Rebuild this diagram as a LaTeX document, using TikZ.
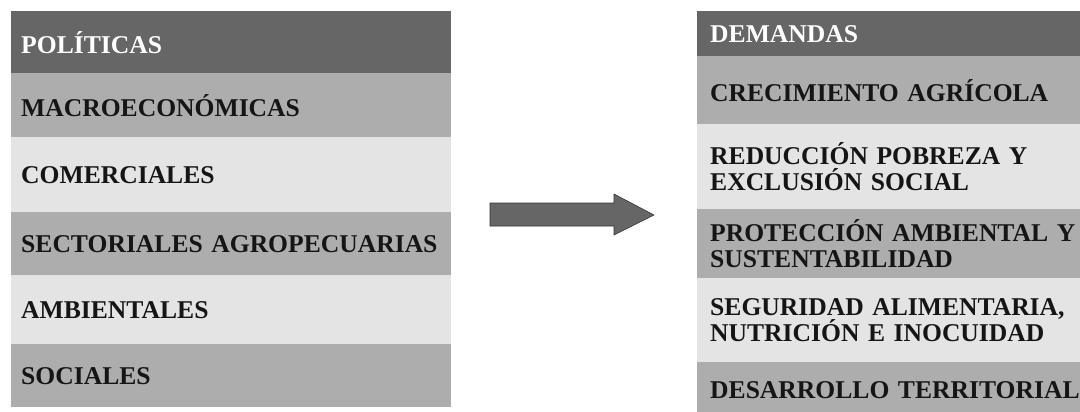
\documentclass[tikz,border=0pt]{standalone}
\usepackage{fontspec}
\setmainfont{Liberation Serif}
\definecolor{dk}{HTML}{666666}
\definecolor{md}{HTML}{ADADAD}
\definecolor{lt}{HTML}{E4E4E4}
\definecolor{ink}{HTML}{151515}
\begin{document}
\begin{tikzpicture}[x=1pt,y=-1pt,
  cell/.style={rectangle, anchor=north west, inner ysep=0pt, align=left,
    font=\fontsize{25.6}{26}\selectfont\bfseries, text=ink},
  lcell/.style={cell, minimum width=435pt, text width=420pt, inner xsep=10pt},
  rcell/.style={cell, minimum width=400pt, text width=380pt, inner xsep=13pt},
  hd/.style={fill=dk, text=white},
  mid/.style={fill=md},
  lit/.style={fill=lt},
  bigarrow/.style={fill=dk, draw=black!80, line width=0.6pt}]
\useasboundingbox[fill=white] (0,0) rectangle (1080,412);
% left column
\node[lcell, hd, minimum height=62pt] (p0) at (11,11) {POLÍTICAS};
\node[lcell, mid, minimum height=64pt] (p1) at (11,73) {MACROECONÓMICAS};
\node[lcell, lit, minimum height=75pt] (p2) at (11,137) {COMERCIALES};
\node[lcell, mid, minimum height=63pt] (p3) at (11,212) {SECTORIALES AGROPECUARIAS};
\node[lcell, lit, minimum height=69pt] (p4) at (11,275) {AMBIENTALES};
\node[lcell, mid, minimum height=63pt] (p5) at (11,344) {SOCIALES};
% right column
\node[rcell, hd, minimum height=45pt] (d0) at (697,11) {DEMANDAS};
\node[rcell, mid, minimum height=68pt] (d1) at (697,56) {CRECIMIENTO AGRÍCOLA};
\node[rcell, lit, minimum height=85pt] (d2) at (697,124) {REDUCCIÓN POBREZA Y\\EXCLUSIÓN SOCIAL};
\node[rcell, mid, minimum height=69pt] (d3) at (697,209) {PROTECCIÓN AMBIENTAL Y\\SUSTENTABILIDAD};
\node[rcell, lit, minimum height=84pt] (d4) at (697,278) {SEGURIDAD ALIMENTARIA,\\NUTRICIÓN E INOCUIDAD};
\node[rcell, mid, minimum height=55pt] (d5) at (697,362) {DESARROLLO TERRITORIAL};
% arrow
\draw[bigarrow] (490,203) -- (614,203) -- (614,194) -- (654,215) -- (614,235) -- (614,226) -- (490,226) -- cycle;
\end{tikzpicture}
\end{document}
